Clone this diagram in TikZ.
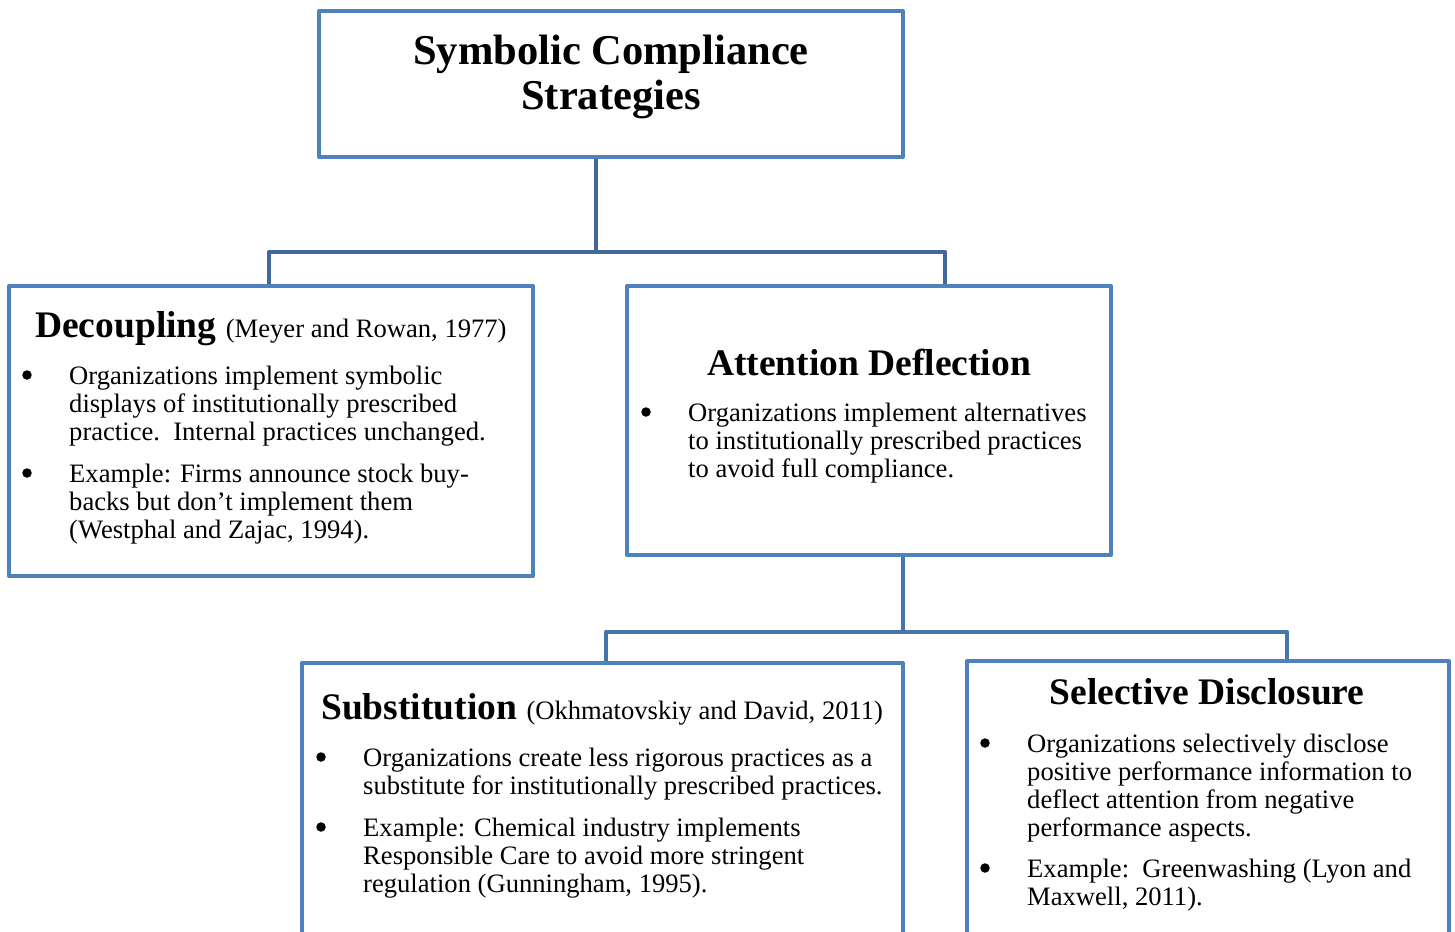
\documentclass[tikz,border=0pt]{standalone}
\usepackage{fontspec}
\setmainfont{Liberation Serif}
\definecolor{boxblue}{HTML}{4F81BD}
\definecolor{linkA}{HTML}{41679B}
\definecolor{linkB}{HTML}{4874AC}
\tikzset{
  box/.style={draw=boxblue, line width=4pt, rectangle, inner sep=0pt, line join=round},
  linkline/.style={line width=4.5pt, line join=round},
  body/.style={font=\fontsize{26.6}{28}\selectfont, anchor=base west, inner sep=0pt, align=left},
  bul/.style={circle, fill=black, inner sep=0pt, minimum size=9.5pt},
  head/.style={font=\bfseries\fontsize{37.5}{40}\selectfont, inner sep=0pt}
}
\begin{document}
\begin{tikzpicture}[x=1pt,y=-1pt]
\useasboundingbox (0,0) rectangle (1455,931);
\fill[white] (0,0) rectangle (1455,931);
\clip (0,0) rectangle (1455,931);

% boxes
\node[box, minimum width=584pt, minimum height=146pt] (top) at (611,84) {};
\node[box, minimum width=524pt, minimum height=290pt] (dec) at (271,431) {};
\node[box, minimum width=484pt, minimum height=269pt] (att) at (869,420.5) {};
\node[box, minimum width=601pt, minimum height=297pt] (sub) at (602.5,811.5) {};
\node[box, minimum width=482pt, minimum height=299pt] (sel) at (1208,810.5) {};

% connectors
\coordinate (j1) at (596,252);
\coordinate (d1) at (269,252);
\coordinate (a1) at (945,252);
\draw[linkline, draw=linkA] (j1 |- top.south) -- (j1);
\draw[linkline, draw=linkA] (dec.north -| d1) -- (d1) -- (a1) -- (a1 |- att.north);
\coordinate (j2) at (903,632);
\coordinate (s1) at (606,632);
\coordinate (s2) at (1287,632);
\draw[linkline, draw=linkB] (j2 |- att.south) -- (j2);
\draw[linkline, draw=linkB] (sub.north -| s1) -- (s1) -- (s2) -- (s2 |- sel.north);

% title (anchor = baseline of last line)
\node[font=\bfseries\fontsize{42.5}{45}\selectfont, anchor=base, inner sep=0pt, align=center] (title) at (611,110) {Symbolic Compliance\\Strategies};

% Decoupling
\node[head, anchor=base west] (dech) at (35,337) {Decoupling {\mdseries\fontsize{26.6}{28}\selectfont (Meyer and Rowan, 1977)}};
\node[bul] (decb1) at (27,375) {};
\node[body] (dect1) at (69,440) {Organizations implement symbolic\\displays of institutionally prescribed\\practice.\ \ Internal practices unchanged.};
\node[bul] (decb2) at (27,473) {};
\node[body] (dect2) at (69,538) {Example: Firms announce stock buy-\\backs but don’t implement them\\(Westphal and Zajac, 1994).};

% Attention Deflection
\node[head, anchor=base] (atth) at (869,375) {Attention Deflection};
\node[bul] (attb1) at (646,412) {};
\node[body] (attt1) at (688,477) {Organizations implement alternatives\\to institutionally prescribed practices\\to avoid full compliance.};

% Substitution
\node[head, anchor=base west] (subh) at (321,719) {Substitution {\mdseries\fontsize{26.6}{28}\selectfont (Okhmatovskiy and David, 2011)}};
\node[bul] (subb1) at (321,757) {};
\node[body] (subt1) at (363,794) {Organizations create less rigorous practices as a\\substitute for institutionally prescribed practices.};
\node[bul] (subb2) at (321,827) {};
\node[body] (subt2) at (363,892) {Example: Chemical industry implements\\Responsible Care to avoid more stringent\\regulation (Gunningham, 1995).};

% Selective Disclosure
\node[head, anchor=base] (selh) at (1207,704) {Selective Disclosure};
\node[bul] (selb1) at (985,743) {};
\node[body] (selt1) at (1027,836) {Organizations selectively disclose\\positive performance information to\\deflect attention from negative\\performance aspects.};
\node[bul] (selb2) at (985,868) {};
\node[body] (selt2) at (1027,905) {Example:\ \ Greenwashing (Lyon and\\Maxwell, 2011).};
\end{tikzpicture}
\end{document}
